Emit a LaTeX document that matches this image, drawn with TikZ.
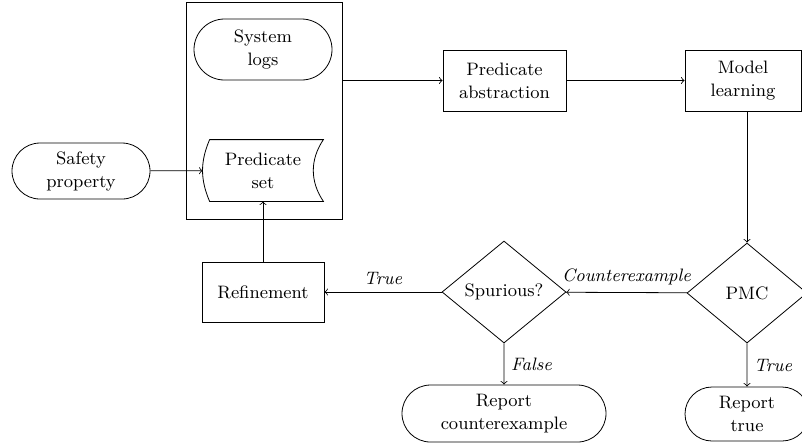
\documentclass[tikz,border=0pt]{standalone}
\usetikzlibrary{shapes.geometric,shapes.misc}
\tikzset{
    block/.style={draw, rectangle, align=center, inner sep=1pt},
    term/.style={draw, rounded rectangle, align=center, inner sep=1pt},
    decide/.style={draw, diamond, align=center, inner sep=0pt, aspect=1.2},
    lbl/.style={font=\fontsize{9}{11.5}\selectfont\itshape}
}
\begin{document}
\begin{tikzpicture}[x=0.5pt, y=-0.5pt, font=\fontsize{9}{11.5}\selectfont]
    \useasboundingbox (0,0) rectangle (802,447);

    \node[draw, minimum width=78pt, minimum height=108.5pt] (inputs) at (264,110.5) {};
    \node[term, minimum width=71pt, minimum height=30.5pt] (slogs) at (263,49.5) {System\\logs};
    \node[align=center, minimum width=60pt, minimum height=30.5pt, inner sep=1pt] (pset) at (263,170.5) {Predicate\\set};
    \draw ([xshift=3.5pt]pset.north west) -- (pset.north east)
          to[bend right=34] (pset.south east)
          -- ([xshift=3.5pt]pset.south west)
          to[bend left=23] ([xshift=3.5pt]pset.north west);

    \node[term, minimum width=71pt, minimum height=28pt] (safety) at (81,171) {Safety\\property};
    \node[block, minimum width=61.5pt, minimum height=30.5pt] (PA) at (504.5,80.5) {Predicate\\abstraction};
    \node[block, minimum width=58pt, minimum height=30.5pt] (ML) at (743,80.5) {Model\\learning};
    \node[decide, minimum width=60pt, minimum height=50pt] (PMC) at (747,293) {PMC};
    \node[decide, minimum width=62pt, minimum height=51pt] (spur) at (504,292) {Spurious?};
    \node[block, minimum width=61pt, minimum height=30pt] (refine) at (263,292) {Refinement};
    \node[term, minimum width=104pt, minimum height=28.5pt] (rcex) at (504,413.5) {Report\\counterexample};
    \node[term, minimum width=64pt, minimum height=27pt] (rtrue) at (747,414) {Report\\true};

    \draw [->] (safety) -- (pset);
    \draw [->] (inputs.east |- PA) -- (PA);
    \draw [->] (PA) -- (ML);
    \draw [->] (ML.south -| PMC.north) -- (PMC.north);
    \draw [->] (PMC) -- node[lbl, above] {Counterexample} (spur);
    \draw [->] (spur) -- node[lbl, above] {True} (refine);
    \draw [->] (spur) -- node[lbl, right] {False} (rcex);
    \draw [->] (PMC) -- node[lbl, right] {True} (rtrue);
    \draw [->] (refine) -- (pset);
\end{tikzpicture}
\end{document}
